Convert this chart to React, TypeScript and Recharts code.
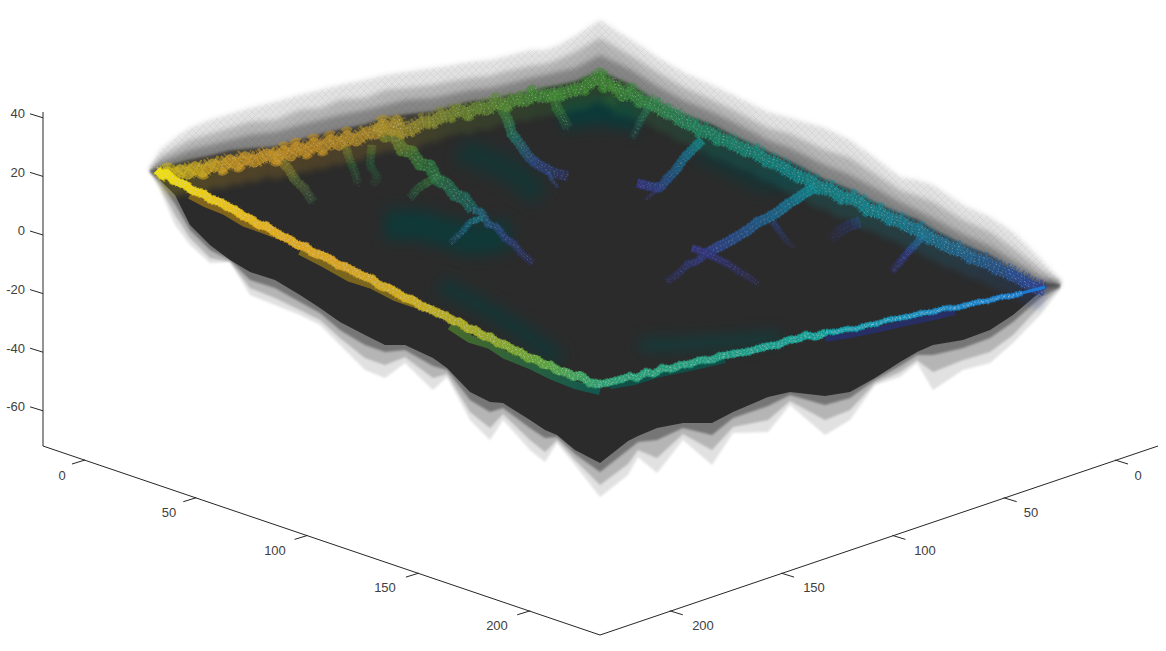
import React from 'react';
import { ComposedChart, Area, Line, Scatter, XAxis, YAxis } from 'recharts';

type P = number[];

// ---- envelope table (screen plane of the 3-D view) ----
const envX = [150,160,175,190,210,230,250,275,300,320,340,365,385,405,433,447,470,490,503,530,545,557,575,600,628,638,657,683,712,733,768,790,825,850,875,900,917,933,963,990,1013,1040,1060];
const top0 = [168,150,138,128,120,114,108,102,95,90,85,80,75,72,68,66,62,60,57,50,50,46,36,20,38,44,57,72,85,95,112,118,128,140,158,177,180,185,205,217,232,258,280];
const top1 = [169,157,148,140,134,128,122,120,110,108,100,98,90,88,85,82,78,76,72,66,64,60,52,38,54,60,72,87,100,110,128,134,150,158,174,190,196,202,220,232,248,268,281];
const top2 = [170,162,156,150,145,140,135,132,125,120,115,110,105,100,98,95,90,88,85,78,75,72,68,55,68,74,86,100,112,122,140,148,165,175,188,202,210,218,234,246,260,276,282];
const top3 = [170,168,164,160,156,151,149,147,140,135,130,125,118,115,112,108,102,100,97,92,88,86,82,72,84,90,102,115,125,136,152,162,180,190,203,214,220,230,245,256,270,283,284];
const topS = [170,172,170,168,165,160,158,156,150,145,140,135,128,125,124,118,112,108,106,102,98,95,92,85,95,100,112,125,135,145,162,172,190,200,212,222,228,238,252,262,275,287,285];
const botS = [172,180,195,225,245,260,272,280,295,308,322,335,345,345,358,368,392,402,403,420,430,435,450,463,441,436,428,423,423,412,397,392,396,392,378,362,352,345,340,330,315,292,286];
const bot2 = [172,182,204,230,250,260,280,288,302,313,330,345,352,350,366,370,400,412,408,428,438,437,454,472,450,442,440,428,435,418,406,395,405,398,380,366,355,355,348,338,322,298,287];
const bot1 = [172,186,215,238,258,262,288,298,310,320,338,358,365,357,378,374,412,428,414,440,452,440,460,485,464,450,458,434,450,427,420,401,420,410,383,372,360,372,360,352,335,306,288];
const bot0 = [172,190,225,245,263,262,295,305,315,325,345,370,378,363,390,377,420,440,420,450,462,443,465,497,475,457,473,440,465,433,432,405,435,420,385,377,363,390,370,363,343,315,290];

// ---- ridges ----
const frontLeft: P[] = [[157,170],[162,175],[167,173],[173,180],[180,183],[186,185],[191,190],[197,192],[204,194],[210,199],[220,202],[228,207],[235,210],[243,216],[251,219],[258,225],[266,226],[273,231],[281,236],[289,239],[297,245],[306,247],[313,253],[321,255],[330,259],[338,265],[346,267],[355,272],[363,276],[372,279],[380,286],[389,288],[397,293],[405,298],[413,300],[421,306],[430,309],[438,313],[446,316],[453,321],[460,322],[468,329],[475,330],[483,336],[490,337],[498,343],[506,345],[513,350],[520,352],[528,358],[536,359],[544,365],[550,365],[558,371],[566,372],[574,377],[580,375],[590,383],[600,384]];
const frontMid: P[] = [[600,384],[606,383],[614,381],[622,379],[630,376],[637,378],[646,372],[654,374],[662,368],[672,369],[680,365],[690,364],[700,360],[712,360],[720,356],[727,355],[738,353],[747,352],[757,349],[768,346],[778,345],[788,340],[798,339],[806,335],[816,337],[826,332]];
const frontRight: P[] = [[826,332],[836,332],[846,329],[856,329],[867,325],[876,324],[887,320],[900,318],[911,316],[922,313],[933,312],[945,308],[956,308],[967,305],[978,302],[988,301],[1000,297],[1012,296],[1022,293]];
const frontTip: P[] = [[1022,293],[1034,290],[1045,287]];
const shoulderA: P[] = [[190,196],[205,204],[225,212],[245,224],[262,230],[275,235]];
const shoulderB: P[] = [[300,252],[325,265],[350,279],[372,286],[395,298],[412,304],[425,308]];
const shoulderC: P[] = [[450,327],[470,340],[490,346],[505,356],[530,366],[550,376],[575,386],[600,392]];
const shoulderD: P[] = [[610,388],[635,384],[660,376],[690,370],[725,362]];
const shoulderE: P[] = [[825,341],[850,337],[880,331],[905,325],[930,320],[955,314]];

const backLeft: P[] = [[160,172],[168,168],[175,172],[180,166],[188,170],[195,163],[203,168],[213,160],[222,164],[230,156],[238,161],[245,153],[254,158],[267,150],[276,155],[284,147],[291,152],[297,143],[306,148],[314,139],[322,145],[331,136],[339,141],[347,132],[356,137],[367,128],[376,130],[383,120],[392,127],[397,116],[402,128],[411,126],[423,118],[433,118],[441,112],[450,112],[458,105],[468,110],[477,103],[487,106],[496,98],[507,101],[515,95],[526,97],[533,90],[543,93],[552,90],[562,90],[573,86],[583,85],[590,78],[600,73],[605,82],[615,80]];
const backRight: P[] = [[615,80],[622,92],[631,88],[640,97],[648,98],[656,102],[664,108],[674,110],[682,118],[692,120],[700,127],[710,128],[718,135],[726,136],[733,140],[745,146],[755,148],[767,157],[778,160],[790,168],[800,173],[810,176],[820,184],[830,185],[842,194],[852,194],[860,198],[868,206],[880,208],[890,215],[900,217],[910,224],[920,226],[930,234],[940,238],[950,244],[960,246],[972,254],[987,258],[996,264],[1006,268],[1017,273],[1030,281],[1045,287]];

const branchA: P[] = [[377,123],[385,136],[395,135],[402,150],[412,152],[420,164],[430,166],[437,180],[447,184],[455,195],[464,198],[473,210]];
const branchA1: P[] = [[473,210],[482,212],[488,224],[497,227],[505,238],[514,244],[522,254],[533,263]];
const branchA2: P[] = [[482,218],[470,222],[462,232],[450,243]];
const branchB: P[] = [[270,150],[280,160],[288,168],[295,180],[304,188],[313,202]];
const branchC: P[] = [[345,145],[350,160],[355,172],[358,184]];
const branchC2: P[] = [[372,145],[370,165],[378,178],[372,185]];
const branchD: P[] = [[410,198],[418,188],[428,182],[440,175]];
const branchE: P[] = [[500,105],[508,120],[512,134],[520,144],[528,156],[537,164],[548,170],[557,174],[568,176]];
const branchE2: P[] = [[548,172],[552,180],[558,188]];
const branchF: P[] = [[553,92],[557,108],[563,118],[568,128]];
const branchG: P[] = [[650,105],[642,118],[636,130],[632,138]];
const branchH: P[] = [[702,140],[692,150],[684,158],[676,170],[668,178],[660,188],[648,186],[637,183]];
const branchH2: P[] = [[660,186],[652,194],[645,200]];
const branchI: P[] = [[815,188],[806,192],[798,198],[788,204],[778,212],[768,218],[758,222],[748,230],[738,236],[728,242],[716,248],[706,254]];
const branchI2: P[] = [[706,254],[696,262],[688,264],[678,274],[666,282]];
const branchJ: P[] = [[692,248],[704,252],[716,258],[728,264],[740,272],[750,278],[758,284]];
const branchK: P[] = [[773,222],[780,232],[786,240],[794,248]];
const branchL: P[] = [[860,222],[848,226],[838,232],[830,240]];
const branchM: P[] = [[924,234],[916,244],[908,252],[900,262],[892,272]];
const branchN: P[] = [[1008,270],[1016,276],[1026,282],[1036,286]];

const tealA: P[] = [[385,225],[420,225],[470,240],[510,235]];
const tealB: P[] = [[560,115],[600,110],[640,118]];
const tealC: P[] = [[440,285],[480,305],[520,330],[560,360]];
const tealD: P[] = [[640,345],[680,345],[720,342],[780,338]];
const tealE: P[] = [[460,150],[510,170],[540,195]];
const tealF: P[] = [[700,150],[760,180],[800,180]];

// ---- axes ----
const zTicks = [40, 20, 0, -20, -40, -60];
const planTicks = [0, 50, 100, 150, 200];
const leftLabelX = [62, 169, 275, 385, 497];
const rightLabelX = [1138, 1031, 925, 814, 703];
const planLabelY = [477, 514, 552, 589, 627];
const zProj = (z: number) => 235 - 2.93 * z;
const boxLine: P[] = [[43, 112], [43, 446], [600, 635], [1158, 446]];

const tableRow = (i: number, lo: number[], hi: number[]) => ({ x: envX[i], r: [lo[i], hi[i]] });
const envelope = (lo: number[], hi: number[], from = 0, to = envX.length) =>
  envX.map((_, i) => tableRow(i, lo, hi)).slice(from, to);
const toXY = (p: P[]) => p.map(([x, y]) => ({ x, y }));

const zTickLabels = zTicks.map((z) => ({ x: 25, y: zProj(z) - 3, label: String(z), anchor: 'end' }));
const leftPlanLabels = planTicks.map((v, i) => ({ x: leftLabelX[i], y: planLabelY[i], label: String(v), anchor: 'middle' }));
const rightPlanLabels = planTicks.map((v, i) => ({ x: rightLabelX[i], y: planLabelY[i], label: String(v), anchor: 'middle' }));

const gradients: [string, P[], string[]][] = [];
const grad = (id: string, p: P[], colors: string[]) => {
  gradients.push([id, p, colors]);
  return `url(#${id})`;
};

const solidLine = (key: string, p: P[], stroke: string, width: number, opacity: number, dash?: string, style?: React.CSSProperties) => (
  <Line key={key} data={toXY(p)} dataKey="y" type="linear" stroke={stroke} strokeWidth={width} strokeOpacity={opacity}
    strokeDasharray={dash} strokeLinecap="butt" strokeLinejoin="round" dot={false} activeDot={false} legendType="none" isAnimationActive={false} style={style} />
);

const DASHES = ['1 2 1 4 1 3', '1 3 2 2 1 5', '1 4 1 2 1 3 2 3', '1 5 1 2 2 4'];
const speckles = (id: string, p: P[], offsets: number[], opacity: number) =>
  offsets.map((o, i) => solidLine(`${id}-s${i}`, p, '#cdcdcd', 1, opacity, DASHES[i % DASHES.length], { transform: `translate(${(i % 2) * 1}px, ${o}px)` }));

const FRINGE = '2 2 1 1 3 2 1 3';
const ridge = (id: string, p: P[], colors: string[], width: number, opacity: number, speckle = 0.45) => {
  const half = Math.floor(width / 2) - 1;
  const offs = [-half, Math.round(-half / 3), Math.round(half / 3), half];
  const stroke = grad(id, p, colors);
  return [
    solidLine(`${id}-f`, p, stroke, width + 2, opacity * 0.65, FRINGE),
    solidLine(`${id}-c`, p, stroke, width, opacity),
    ...(speckle > 0 ? speckles(id, p, offs, speckle) : []),
  ];
};

// wide back-edge band that fades downward from the toothed crest
const band = (id: string, p: P[], colors: string[], opacity: number) => {
  const stroke = grad(id, p, colors);
  return [
    solidLine(`${id}-w`, p, stroke, 26, 0.22, undefined, { transform: 'translate(0,11px)', filter: 'blur(3px)' }),
    solidLine(`${id}-f`, p, stroke, 17, 0.55, FRINGE, { transform: 'translate(0,3px)' }),
    solidLine(`${id}-c`, p, stroke, 11, opacity, undefined, { transform: 'translate(0,4px)' }),
    ...speckles(id, p, [-2, 1, 4, 7, 10], 0.42),
  ];
};

const TextMark = (props: any) => (
  <text x={props.cx} y={props.cy} textAnchor={props.payload.anchor} dominantBaseline="middle"
    fontFamily="'Liberation Sans', Arial, sans-serif" fontSize={13} fill="#404040">{props.payload.label}</text>
);

const haloTop = { filter: 'blur(2.5px)' };
const haloBot = { filter: 'blur(1.2px)' };
const DK = '#2b2b2b';

export default function App() {
  gradients.length = 0;
  const glow = { filter: 'blur(7px)' };
  const lines = [
    // dark teal glows in the interior
    solidLine('t1', tealA, '#00403f', 30, 0.65, undefined, glow),
    solidLine('t2', tealB, '#004040', 28, 0.7, undefined, glow),
    solidLine('t3', tealC, '#00403f', 16, 0.5, undefined, glow),
    solidLine('t4', tealD, '#004a48', 12, 0.55, undefined, glow),
    solidLine('t5', tealE, '#00403f', 26, 0.45, undefined, glow),
    solidLine('t6', tealF, '#003f42', 24, 0.4, undefined, glow),
    // interior branches
    ...ridge('bB', branchB, ['#9a7d2a', '#5c6f30', '#34483a'], 9, 0.6, 0.22),
    ...ridge('bC', branchC, ['#6f7e2e', '#2a6034', '#2c3c30'], 8, 0.5, 0.14),
    ...ridge('bC2', branchC2, ['#4d7a30', '#225f38', '#2b3b30'], 8, 0.42, 0.1),
    ...ridge('bD', branchD, ['#24483a', '#2f6a36', '#3a7a33'], 8, 0.55, 0.2),
    ...ridge('bA', branchA, ['#7d8426', '#2f7d3c', '#1a6a68'], 12, 0.65, 0.35),
    ...ridge('bA1', branchA1, ['#1a6a78', '#2c3f80', '#2b2f50'], 7, 0.7, 0.22),
    ...ridge('bA2', branchA2, ['#15707e', '#14566e', '#1d3c4a'], 6, 0.75, 0.3),
    ...ridge('bE', branchE, ['#3f7d30', '#1e7a6a', '#2c4a90', '#2c3260'], 10, 0.6, 0.28),
    ...ridge('bE2', branchE2, ['#2b4a88', '#2b3050'], 4, 0.6, 0.12),
    ...ridge('bF', branchF, ['#488a30', '#2a7038', '#24483a'], 10, 0.55, 0.28),
    ...ridge('bG', branchG, ['#267a58', '#1e5c50', '#1f3c3a'], 7, 0.5, 0.2),
    ...ridge('bH', branchH, ['#118590', '#1c5f8a', '#36358a'], 9, 0.72, 0.24),
    ...ridge('bH2', branchH2, ['#30388a', '#2b2c48'], 4, 0.5, 0.12),
    ...ridge('bI', branchI, ['#128a95', '#1f5f90', '#31408e'], 10, 0.78, 0.28),
    ...ridge('bI2', branchI2, ['#313c88', '#2c2c48'], 7, 0.7, 0.14),
    ...ridge('bJ', branchJ, ['#33378a', '#2b2b40'], 7, 0.75, 0.16),
    ...ridge('bK', branchK, ['#2b3f82', '#2b2b3c'], 6, 0.5, 0.08),
    ...ridge('bL', branchL, ['#2a3a7c', '#2b2b3c'], 11, 0.45, 0.08),
    ...ridge('bM', branchM, ['#1f6d90', '#2f3a84', '#2c2c50'], 7, 0.75, 0.2),
    ...ridge('bN', branchN, ['#2c3a88', '#2c4a90'], 7, 0.7, 0.22),
    // back edges
    ...band('bl', backLeft, ['#d8c414', '#cf9a22', '#c48f22', '#b09028', '#6f8a2e', '#3f8a33', '#3f8a33'], 0.66),
    ...band('br', backRight, ['#3f8a33', '#1d8a62', '#0f8888', '#128a95', '#1f6d98', '#2f3f90'], 0.66),
    // lower shoulders of the front edges
    solidLine('s1', shoulderA, '#8f6f1c', 8, 0.85, undefined, { transform: 'translate(0,-1px)' }),
    solidLine('s2', shoulderB, '#8f741c', 8, 0.8, undefined, { transform: 'translate(0,-1px)' }),
    solidLine('s3', shoulderC, grad('s3g', shoulderC, ['#4d762a', '#0c5f56']), 8, 0.85, undefined, { transform: 'translate(0,-1px)' }),
    solidLine('s4', shoulderD, '#0a5a50', 6, 0.8, undefined, { transform: 'translate(0,-2px)' }),
    solidLine('s5', shoulderE, '#23308a', 6, 0.6, undefined, { transform: 'translate(0,-2px)' }),
    // front edges
    ...ridge('fl', frontLeft, ['#f0e010', '#e8c41a', '#dea820', '#d4a224', '#ccac22', '#a4a828', '#66a238', '#2f9f72'], 8, 1, 0.62),
    ...ridge('fm', frontMid, ['#2f9f72', '#229c80', '#149e98'], 7, 1, 0.58),
    ...ridge('fr', frontRight, ['#14a0a4', '#1a8cc0', '#1a7cd0'], 5, 1, 0.5),
    solidLine('ft', frontTip, '#1c78d2', 3, 1),
  ];

  const halo = (lo: number[], hi: number[], op: number, fill: string, style: React.CSSProperties) => (
    <Area data={envelope(lo, hi)} dataKey="r" type="linear" stroke="none" fill={fill} fillOpacity={op} dot={false} activeDot={false} legendType="none" isAnimationActive={false} style={style} />
  );

  return (
    <div style={{ position: 'absolute', left: 0, top: 0, width: 1166, height: 651, background: '#ffffff' }}>
      <ComposedChart width={1166} height={651} margin={{ top: 0, right: 0, bottom: 0, left: 0 }} data={envelope(top0, bot0)}>
        <defs>
          <pattern id="hatch" patternUnits="userSpaceOnUse" width="7" height="7">
            <path d="M0 0L7 7M7 0L0 7" stroke="#1e1e1e" strokeWidth="1" strokeOpacity="0.5" fill="none" />
          </pattern>
          {gradients.map(([id, p, colors]) => (
            <linearGradient key={id} id={id} gradientUnits="userSpaceOnUse"
              x1={p[0][0]} y1={p[0][1]} x2={p[p.length - 1][0]} y2={p[p.length - 1][1]}>
              {colors.map((c, i) => <stop key={i} offset={i / (colors.length - 1)} stopColor={c} />)}
            </linearGradient>
          ))}
        </defs>
        <XAxis hide type="number" dataKey="x" domain={[0, 1166]} allowDataOverflow />
        <YAxis hide type="number" domain={[0, 651]} reversed allowDataOverflow />

        {/* translucent halo above: each layer runs on under the solid body, so no seam shows */}
        {halo(top0, topS, 0.14, DK, haloTop)}
        {halo(top0, topS, 0.1, 'url(#hatch)', { filter: 'blur(0.7px)' })}
        {halo(top1, topS, 0.24, DK, haloTop)}
        {halo(top2, topS, 0.34, DK, haloTop)}
        {halo(top3, topS, 0.55, DK, haloTop)}
        {/* translucent halo below */}
        {halo(top3, bot0, 0.14, DK, haloBot)}
        {halo(top3, bot1, 0.24, DK, haloBot)}
        {halo(top3, bot2, 0.45, DK, haloBot)}
        {/* solid body */}
        <Area data={envelope(topS, botS, 1, envX.length - 1)} dataKey="r" type="linear" stroke="none" fill={DK} fillOpacity={1} dot={false} activeDot={false} legendType="none" isAnimationActive={false} />

        {lines}

        {/* axis box */}
        {solidLine('box', boxLine, '#262626', 1, 1)}
        {zTicks.map((z) => solidLine('zt' + z, [[30, zProj(z) - 4], [43, zProj(z)]], '#262626', 1, 1))}
        {planTicks.map((v) => solidLine('lt' + v, [[85 + 2.226 * v, 460 + 0.754 * v], [72 + 2.226 * v, 464 + 0.754 * v]], '#262626', 1, 1))}
        {planTicks.map((v) => solidLine('rt' + v, [[1115 - 2.226 * v, 460 + 0.754 * v], [1128 - 2.226 * v, 464 + 0.754 * v]], '#262626', 1, 1))}

        <Scatter data={zTickLabels} dataKey="y" shape={TextMark} legendType="none" isAnimationActive={false} />
        <Scatter data={leftPlanLabels} dataKey="y" shape={TextMark} legendType="none" isAnimationActive={false} />
        <Scatter data={rightPlanLabels} dataKey="y" shape={TextMark} legendType="none" isAnimationActive={false} />
      </ComposedChart>
    </div>
  );
}
